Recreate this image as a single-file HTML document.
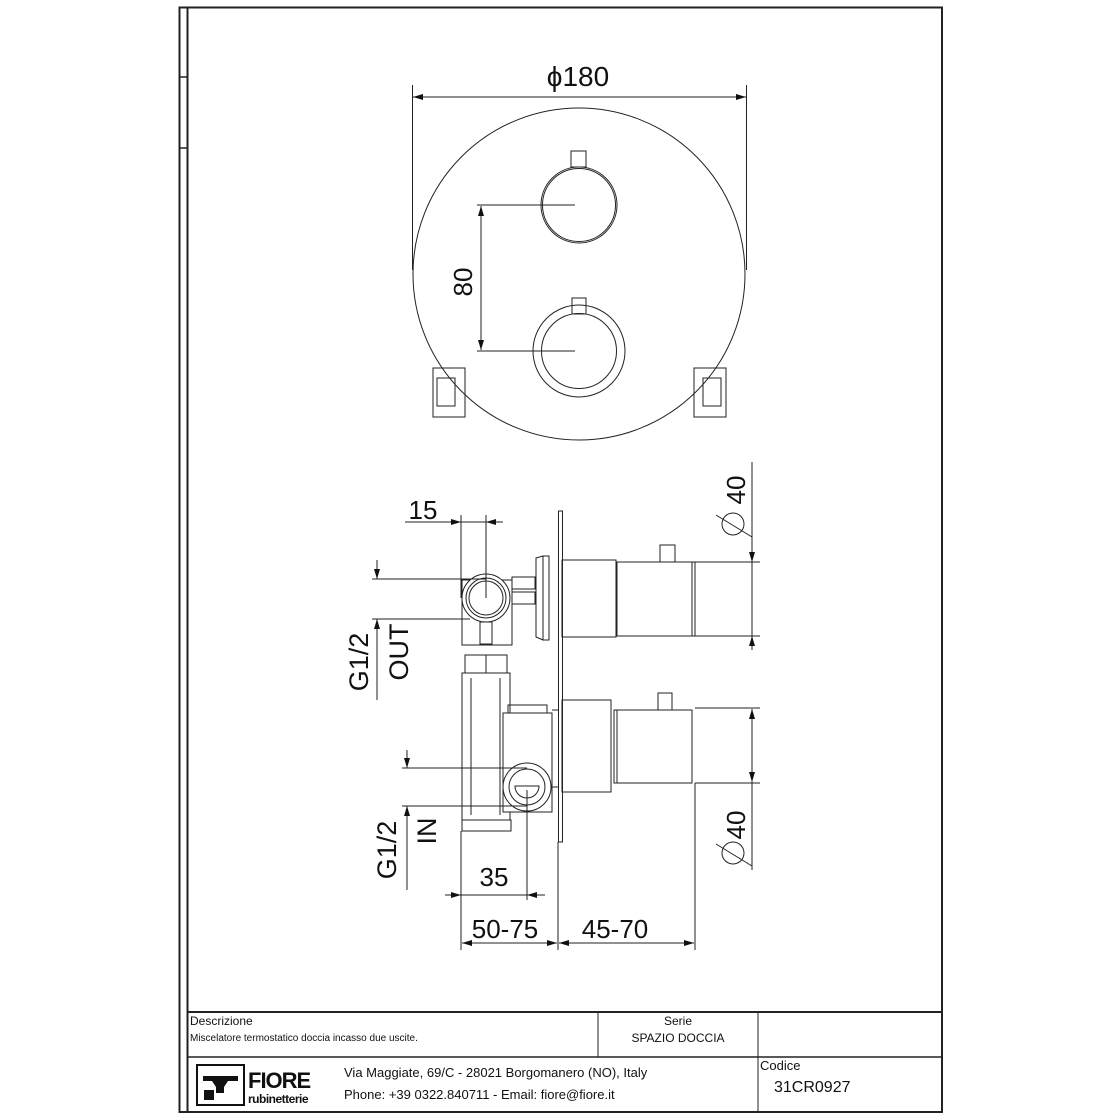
<!DOCTYPE html>
<html><head><meta charset="utf-8"><style>
html,body{margin:0;padding:0;background:#fff}
svg{display:block}
text{font-family:"Liberation Sans",sans-serif;fill:#111}
</style></head><body>
<svg width="1120" height="1120" viewBox="0 0 1120 1120" xmlns="http://www.w3.org/2000/svg">
<defs>
<marker id="a" viewBox="0 0 10 10" refX="10" refY="5" markerWidth="10" markerHeight="10" orient="auto-start-reverse" markerUnits="userSpaceOnUse"><path d="M0,2 L10,5 L0,8z" fill="#111"/></marker>
</defs>
<g fill="none" stroke="#222" stroke-width="1">
<!-- frame -->
<rect x="179.5" y="7.5" width="762.5" height="1104.5" stroke-width="2"/>
<line x1="187.5" y1="7" x2="187.5" y2="1112" stroke-width="2"/>
<line x1="179" y1="77" x2="187" y2="77" stroke-width="1.5"/>
<line x1="179" y1="148" x2="187" y2="148" stroke-width="1.5"/>
<line x1="187" y1="1012" x2="942" y2="1012" stroke-width="2"/>
<line x1="187" y1="1057" x2="942" y2="1057" stroke-width="1.5"/>
<line x1="598" y1="1012" x2="598" y2="1057"/>
<line x1="758" y1="1012" x2="758" y2="1112"/>

<!-- top view -->
<circle cx="579" cy="274" r="166"/>
<circle cx="579" cy="205" r="38"/>
<circle cx="579" cy="205" r="36.5"/>
<rect x="571" y="151" width="15" height="16"/>
<circle cx="579" cy="351" r="46"/>
<circle cx="579" cy="351" r="37.5"/>
<rect x="572" y="298" width="14" height="16"/>
<rect x="433" y="368" width="32" height="49"/>
<rect x="437" y="378" width="18" height="28"/>
<rect x="694" y="368" width="32" height="49"/>
<rect x="703" y="378" width="18" height="28"/>
<line x1="412.5" y1="85" x2="412.5" y2="270"/>
<line x1="746.5" y1="85" x2="746.5" y2="270"/>
<line x1="413" y1="97" x2="746" y2="97" marker-start="url(#a)" marker-end="url(#a)"/>
<line x1="477" y1="205" x2="575" y2="205"/>
<line x1="477" y1="351" x2="575" y2="351"/>
<line x1="481" y1="206" x2="481" y2="350" marker-start="url(#a)" marker-end="url(#a)"/>

<!-- side view: plate -->
<rect x="558.5" y="511" width="4" height="331"/>
<!-- upper cartridge -->
<path d="M543 556 L536 558 L536 637 L543 640 Z"/>
<rect x="543" y="556" width="6" height="84"/>
<rect x="562" y="560" width="54" height="77"/>
<rect x="617" y="562" width="78" height="74"/>
<line x1="692" y1="562" x2="692" y2="636"/>
<rect x="660" y="545" width="15" height="17"/>
<line x1="695" y1="562" x2="760" y2="562"/>
<line x1="695" y1="636" x2="760" y2="636"/>
<!-- lower cartridge -->
<rect x="562" y="700" width="49" height="92"/>
<rect x="614" y="710" width="78" height="73"/>
<line x1="617" y1="710" x2="617" y2="783"/>
<rect x="658" y="693" width="14" height="17"/>
<line x1="695" y1="708" x2="760" y2="708"/>
<line x1="695" y1="783" x2="760" y2="783"/>
<!-- left body -->
<rect x="462" y="580" width="50" height="65"/>
<rect x="512" y="577" width="23" height="12"/>
<rect x="512" y="592" width="23" height="12"/>
<circle cx="486" cy="598" r="24" fill="#fff"/>
<circle cx="486" cy="598" r="20"/>
<circle cx="486" cy="598" r="17"/>
<rect x="480" y="622" width="12" height="22"/>
<rect x="465" y="655" width="42" height="18"/>
<line x1="486" y1="655" x2="486" y2="673"/>
<rect x="462" y="673" width="48" height="147"/>
<line x1="471" y1="678" x2="471" y2="815"/>
<line x1="500" y1="678" x2="500" y2="815"/>
<rect x="462" y="820" width="49" height="11"/>
<rect x="503" y="713" width="49" height="99" fill="#fff"/>
<rect x="508" y="705" width="39" height="8"/>
<circle cx="527" cy="787" r="24" fill="#fff"/>
<circle cx="527" cy="787" r="18"/>
<path d="M515 786 A12 12 0 0 0 539 786 Z"/>
<line x1="552" y1="787" x2="558" y2="787"/>
<line x1="552" y1="710" x2="558" y2="710"/>

<!-- dims: 15 -->
<line x1="461" y1="515" x2="461" y2="598"/>
<line x1="486" y1="515" x2="486" y2="598"/>
<line x1="405" y1="522" x2="461" y2="522" marker-end="url(#a)"/>
<line x1="503" y1="522" x2="486" y2="522" marker-end="url(#a)"/>
<line x1="461" y1="522" x2="486" y2="522"/>
<!-- OUT -->
<line x1="372" y1="579" x2="486" y2="579"/>
<line x1="372" y1="619" x2="470" y2="619"/>
<line x1="377" y1="560" x2="377" y2="579" marker-end="url(#a)"/>
<line x1="377" y1="700" x2="377" y2="619" marker-end="url(#a)"/>
<!-- IN -->
<line x1="402" y1="768" x2="527" y2="768"/>
<line x1="402" y1="806" x2="527" y2="806"/>
<line x1="407" y1="750" x2="407" y2="768" marker-end="url(#a)"/>
<line x1="407" y1="890" x2="407" y2="806" marker-end="url(#a)"/>
<!-- 35 / bottom -->
<line x1="461" y1="831" x2="461" y2="950"/>
<line x1="527" y1="790" x2="527" y2="900"/>
<line x1="445" y1="895" x2="461" y2="895" marker-end="url(#a)"/>
<line x1="461" y1="895" x2="527" y2="895"/>
<line x1="545" y1="895" x2="527" y2="895" marker-end="url(#a)"/>
<line x1="558" y1="842" x2="558" y2="950"/>
<line x1="695" y1="783" x2="695" y2="950"/>
<line x1="462" y1="943" x2="557" y2="943" marker-start="url(#a)" marker-end="url(#a)"/>
<line x1="559" y1="943" x2="694" y2="943" marker-start="url(#a)" marker-end="url(#a)"/>
<!-- right Ø40 -->
<line x1="752" y1="462" x2="752" y2="562" marker-end="url(#a)"/>
<line x1="752" y1="650" x2="752" y2="636" marker-end="url(#a)"/>
<line x1="752" y1="636" x2="752" y2="562"/>
<line x1="752" y1="709" x2="752" y2="782" marker-start="url(#a)" marker-end="url(#a)"/>
<line x1="752" y1="782" x2="752" y2="870"/>
<circle cx="733" cy="524" r="11"/>
<line x1="716" y1="515" x2="752" y2="537"/>
<circle cx="733" cy="853" r="11"/>
<line x1="716" y1="844" x2="752" y2="866"/>
</g>

<!-- text -->
<text x="578" y="86" font-size="28" text-anchor="middle">ϕ180</text>
<text transform="translate(472,282) rotate(-90)" font-size="26" text-anchor="middle">80</text>
<text x="423" y="519" font-size="26" text-anchor="middle">15</text>
<text transform="translate(368,662) rotate(-90)" font-size="27" text-anchor="middle">G1/2</text>
<text transform="translate(408,652) rotate(-90)" font-size="27" text-anchor="middle">OUT</text>
<text transform="translate(396,850) rotate(-90)" font-size="27" text-anchor="middle">G1/2</text>
<text transform="translate(436,831) rotate(-90)" font-size="27" text-anchor="middle">IN</text>
<text x="494" y="886" font-size="26" text-anchor="middle">35</text>
<text x="505" y="938" font-size="26" text-anchor="middle">50-75</text>
<text x="615" y="938" font-size="26" text-anchor="middle">45-70</text>
<text transform="translate(745,490) rotate(-90)" font-size="26" text-anchor="middle">40</text>
<text transform="translate(745,825) rotate(-90)" font-size="26" text-anchor="middle">40</text>

<text x="190" y="1025" font-size="12">Descrizione</text>
<text x="190" y="1041" font-size="10" fill="#555">Miscelatore termostatico doccia incasso due uscite.</text>
<text x="678" y="1025" font-size="12" text-anchor="middle">Serie</text>
<text x="678" y="1042" font-size="12" text-anchor="middle">SPAZIO DOCCIA</text>
<text x="760" y="1070" font-size="13">Codice</text>
<text x="774" y="1092" font-size="16">31CR0927</text>
<text x="344" y="1077" font-size="13">Via Maggiate, 69/C - 28021 Borgomanero (NO), Italy</text>
<text x="344" y="1099" font-size="13">Phone: +39 0322.840711 - Email: fiore@fiore.it</text>
<!-- logo -->
<rect x="197" y="1065" width="47" height="40" fill="none" stroke="#111" stroke-width="2"/>
<path d="M203 1076 h35 v5 h-10 l-4 6 v6 h-8 v-6 l-4 -6 h-9z M204 1090 h10 v10 h-10z" fill="#111"/>
<text x="248" y="1088" font-size="22" font-weight="bold" letter-spacing="-1">FIORE</text>
<text x="248" y="1103" font-size="12" font-weight="bold" letter-spacing="-0.5">rubinetterie</text>
</svg>
</body></html>
